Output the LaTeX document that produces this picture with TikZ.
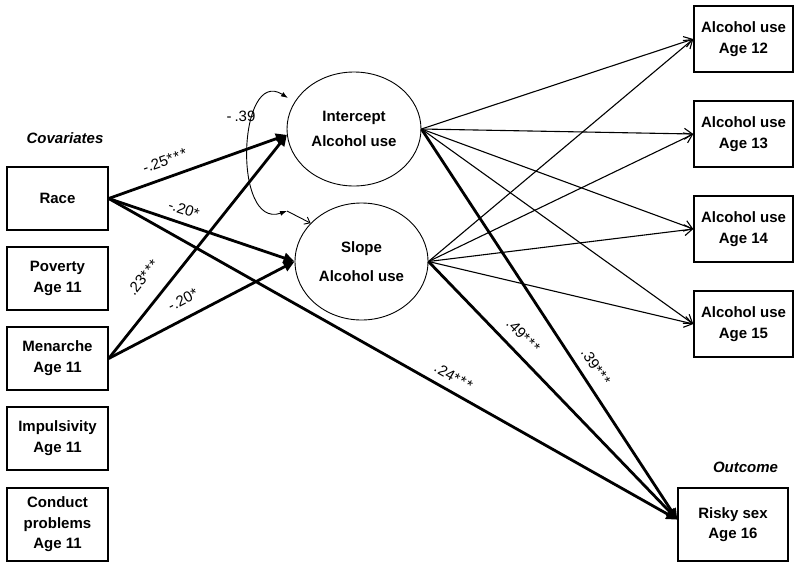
\documentclass[tikz,border=0pt]{standalone}
\usepackage{fontspec}
\setmainfont{Liberation Sans}
\usetikzlibrary{arrows.meta,shapes.geometric}
\tikzset{
  box/.style={draw, line width=1.4pt, minimum width=101pt, minimum height=63pt, inner sep=0pt, align=center,
    font=\fontsize{15}{21}\selectfont\bfseries},
  latent/.style={draw, ellipse, line width=0.9pt, minimum width=134pt, minimum height=114pt, inner sep=0pt, align=center},
  thin/.style={line width=1.1pt, -{Straight Barb[length=8pt,width=11pt,line width=1.1pt]}},
  thick/.style={line width=2.8pt, -{Triangle[length=11pt,width=10pt]}},
  cov/.style={line width=0.9pt},
  lab/.style={font=\fontsize{15}{17}\selectfont, inner sep=0pt, sloped},
  head/.style={font=\fontsize{15}{18}\selectfont\bfseries\itshape, inner sep=0pt}
}
\newcommand{\stars}{*\kern1.3pt*\kern1.3pt*}
\begin{document}
\begin{tikzpicture}[x=1pt,y=-1pt]
\useasboundingbox (0,0) rectangle (800,568);
% covariates
\node[head] (covh) at (65,138) {Covariates};
\node[box] (race) at (57.5,198.5) {Race};
\node[box] (pov) at (57.5,278.5) {Poverty\\Age 11};
\node[box] (men) at (57.5,358.5) {Menarche\\Age 11};
\node[box] (imp) at (57.5,438.5) {Impulsivity\\Age 11};
\node[box, minimum height=73pt, font=\fontsize{15}{20.5}\selectfont\bfseries] (con) at (57.5,524.5) {Conduct\\problems\\Age 11};
% latent
\node[latent, font=\fontsize{15}{25}\selectfont\bfseries] (int) at (354,129) {Intercept\\Alcohol use};
\node[latent, minimum width=133pt, minimum height=117pt, font=\fontsize{15}{29}\selectfont\bfseries] (slo) at (361.5,261.5) {Slope\\Alcohol use};
% outcomes
\node[box, minimum width=99pt, minimum height=66pt] (a12) at (743.5,39) {Alcohol use\\Age 12};
\node[box, minimum width=99pt, minimum height=66pt] (a13) at (743.5,134) {Alcohol use\\Age 13};
\node[box, minimum width=99pt, minimum height=66pt] (a14) at (743.5,229) {Alcohol use\\Age 14};
\node[box, minimum width=99pt, minimum height=66pt] (a15) at (743.5,324) {Alcohol use\\Age 15};
\node[head] (outh) at (745.5,467.5) {Outcome};
\node[box, minimum width=110pt, minimum height=73pt, font=\fontsize{15}{20}\selectfont\bfseries] (risky) at (733,524.5) {Risky sex\\Age 16};
% thin loadings
\foreach \t in {a12,a13,a14,a15}{
  \draw[thin] (int.east) -- (\t.west);
  \draw[thin] (slo.east) -- (\t.west);
}
% thick paths
\draw[thick] (race.east) -- node[lab, pos=0.346, above=10pt] {-.25\stars} (int.185);
\draw[thick] (race.east) -- node[lab, pos=0.381, above=7pt] {-.20*} (slo.west);
\draw[thick] (men.east) -- node[lab, pos=0.297, above=17pt] {.23\stars} (int.185);
\draw[thick] (men.east) -- node[lab, pos=0.443, above=11pt] {-.20*} (slo.west);
\draw[thick] (race.east) -- node[lab, pos=0.594, above=8pt] {.24\stars} (risky.175);
\draw[thick] (slo.east) -- node[lab, pos=0.333, above=10pt] {.49\stars} (risky.175);
\draw[thick] (int.east) -- node[lab, pos=0.631, above=9pt] {.39\stars} (risky.175);
% covariance
\coordinate (c1) at (288,98);
\coordinate (c2) at (287,211);
\draw[cov, {Latex[length=7pt,width=5pt]}-{Latex[length=7pt,width=5pt]}] (c2) .. controls (232,230) and (238,66) .. (c1);
\draw[cov, -{Straight Barb[length=5pt,width=8pt,line width=0.9pt]}] (c2) -- (slo.143);
\node[font=\fontsize{15}{17}\selectfont, inner sep=0pt] (covl) at (241,116) {-\kern3pt.39};
\end{tikzpicture}
\end{document}
